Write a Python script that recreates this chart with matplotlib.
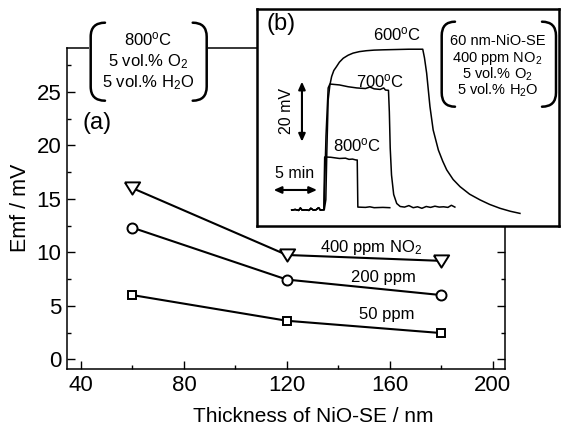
import matplotlib
matplotlib.use('Agg')
import matplotlib.pyplot as plt
from matplotlib.path import Path
from matplotlib.patches import PathPatch, Rectangle
from matplotlib.transforms import Affine2D

plt.rcParams['font.family'] = ['Liberation Sans', 'DejaVu Sans']
plt.rcParams['mathtext.fontset'] = 'custom'
plt.rcParams['mathtext.rm'] = 'Liberation Sans'
plt.rcParams['mathtext.it'] = 'Liberation Sans:italic'
plt.rcParams['mathtext.bf'] = 'Liberation Sans:bold'

# ---------------- data: panel (a) ----------------
thickness = [60, 120, 180]
emf_400ppm = [16.0, 9.75, 9.2]
emf_200ppm = [12.3, 7.45, 6.0]
emf_50ppm = [6.0, 3.6, 2.45]
series_labels = ['400 ppm NO$_2$', '200 ppm', '50 ppm']
x_ticks = [40, 80, 120, 160, 200]
y_ticks = [0, 5, 10, 15, 20, 25]

# ---------------- data: panel (b) transients (time / min, emf / mV) ----------------
base_t = [4.0, 4.4, 4.8, 5.0, 5.2, 5.6, 6.0, 6.2, 6.5, 6.8, 7.1, 7.3, 7.6]
base_v = [5.3, 5.5, 5.2, 6.0, 5.3, 5.4, 5.2, 5.9, 5.3, 5.4, 6.1, 5.3, 5.4]

t800 = [7.70, 7.75, 7.80, 8.5, 9.5, 10.2, 10.6, 11.0, 11.4, 11.55, 11.62, 12.5, 13.0, 13.5, 14.5, 15.3]
v800 = [5.4, 15.0, 23.0, 22.9, 22.5, 22.6, 22.2, 22.3, 22.0, 22.0, 6.3, 6.2, 6.4, 6.1, 6.2, 6.1]

t700 = [7.72, 7.95, 8.2, 8.4, 9.5, 10.5, 11.5, 12.5, 13.0, 13.5, 14.2, 14.6, 14.8, 15.15,
        15.25, 15.35, 15.5, 15.75, 16.1, 16.5, 17.0, 17.5, 18.0, 18.5, 19.0, 19.5, 20.0,
        20.5, 21.0, 21.5, 22.0, 22.4, 22.8]
v700 = [5.4, 30.0, 46.0, 47.3, 47.0, 46.4, 46.0, 45.8, 46.3, 45.7, 45.5, 46.0, 45.3, 45.2,
        38.0, 26.0, 17.0, 10.5, 7.5, 6.5, 6.3, 6.8, 6.1, 6.4, 5.9, 6.5, 6.2,
        6.6, 6.3, 6.4, 6.2, 6.9, 6.3]

t600 = [7.75, 7.93, 8.05, 8.2, 8.4, 8.6, 8.85, 9.16, 9.5, 9.94, 10.5, 11.07, 11.8, 12.6,
        13.5, 14.55, 16.0, 17.5, 19.1, 19.3, 19.55, 19.93, 20.3, 20.9, 21.4, 21.86, 22.6,
        23.4, 24.5, 25.7, 26.8, 28.0, 29.2, 30.3]
v600 = [5.4, 8.7, 25.0, 42.0, 47.0, 49.8, 51.8, 53.1, 54.6, 55.9, 56.9, 57.6, 58.1, 58.4,
        58.6, 58.7, 58.8, 58.9, 58.9, 56.0, 50.9, 39.8, 32.0, 25.3, 21.6, 18.7, 15.5,
        13.1, 10.6, 8.7, 7.2, 5.9, 4.9, 4.2]

temp_labels = ['600$^{\\mathrm{o}}$C', '700$^{\\mathrm{o}}$C', '800$^{\\mathrm{o}}$C']
scale_time = 5    # min
scale_emf = 20    # mV

W, H = 561, 428
fig = plt.figure(figsize=(W / 100, H / 100), dpi=100)
px = Affine2D().scale(1 / W, -1 / H).translate(0, 1) + fig.transFigure

# ---------------- main axes ----------------
ax = fig.add_axes([67 / W, 1 - 369 / H, (505.5 - 67) / W, (369 - 48) / H])
ax.set_xlim(34.56, 204.97)
ax.set_ylim(-0.91, 29.1)

ms_kw = dict(color='black', lw=1.5, mfc='white', mec='black', mew=1.4)
tri = [(-1, 0.8), (1, 0.8), (0, -0.8), (-1, 0.8)]
ax.plot(thickness, emf_400ppm, marker=tri, ms=11, **ms_kw)
ax.plot(thickness, emf_200ppm, marker='o', ms=7.2, **ms_kw)
ax.plot(thickness, emf_50ppm, marker='s', ms=6.4, **ms_kw)

label_pos = [(152.9, 10.06), (157.4, 7.25), (158.7, 3.74)]
for (lx, ly), s in zip(label_pos, series_labels):
    ax.text(lx, ly, s, ha='center', va='baseline', fontsize=12)

ax.set_xticks(x_ticks)
ax.set_xticks([60, 100, 140, 180], minor=True)
ax.set_yticks(y_ticks)
ax.set_yticks([2.5, 7.5, 12.5, 17.5, 22.5, 27.5], minor=True)
ax.tick_params(which='both', direction='in', right=True, top=False, width=1.0,
               labelsize=16, pad=4)
ax.tick_params(which='major', length=5.5)
ax.tick_params(which='minor', length=3)
for sp in ax.spines.values():
    sp.set_linewidth(1.1)

fig.text(313.5, 421.7, 'Thickness of NiO-SE / nm', transform=px, ha='center',
         va='baseline', fontsize=15)
fig.text(21, 208, 'Emf / mV', transform=px, ha='center', va='center',
         rotation=90, fontsize=15.5)
fig.text(97.5, 123.3, '(a)', transform=px, ha='center', va='center', fontsize=17)

# ---------------- inset ----------------
axi = fig.add_axes([257 / W, 1 - 226 / H, (559 - 257) / W, (226 - 9) / H])
axi.set_xlim(0, 34.8)
axi.set_ylim(0, 72.3)
axi.set_xticks([])
axi.set_yticks([])
for sp in axi.spines.values():
    sp.set_linewidth(1.8)
for tt, vv in [(t600, v600), (t700, v700), (t800, v800)]:
    axi.plot(base_t + tt, base_v + vv, color='black', lw=1.1)

arrow_kw = dict(arrowstyle='<|-|>,head_length=0.45,head_width=0.2', color='black',
                lw=1.5, shrinkA=0, shrinkB=0)
axi.annotate('', xy=(1.92, 12.0), xytext=(1.92 + scale_time, 12.0), arrowprops=arrow_kw)
axi.annotate('', xy=(5.18, 28.1), xytext=(5.18, 28.1 + scale_emf), arrowprops=arrow_kw)

fig.text(294.8, 178.3, '5 min', transform=px, ha='center', va='baseline', fontsize=11.5)
fig.text(286.2, 110.8, '20 mV', transform=px, ha='center', va='center', rotation=90,
         fontsize=11.5)
fig.text(397.5, 40, temp_labels[0], transform=px, ha='center', va='baseline', fontsize=12)
fig.text(380.5, 87.3, temp_labels[1], transform=px, ha='center', va='baseline', fontsize=12)
fig.text(356.7, 151.7, temp_labels[2], transform=px, ha='center', va='baseline', fontsize=12)
fig.text(281.3, 24.2, '(b)', transform=px, ha='center', va='center', fontsize=17)

# ---------------- bracket boxes ----------------
def bracket(x_out, x_end, y_top, y_bot, r=14):
    verts = [(x_end, y_top), (x_out, y_top), (x_out, y_top + r),
             (x_out, y_bot - r), (x_out, y_bot), (x_end, y_bot)]
    codes = [Path.MOVETO, Path.CURVE3, Path.CURVE3, Path.LINETO, Path.CURVE3, Path.CURVE3]
    return PathPatch(Path(verts, codes), transform=px, fill=False, lw=1.8,
                     edgecolor='black', zorder=5, capstyle='round')

fig.patches.append(Rectangle((89, 21), 119, 81, transform=px, facecolor='white',
                             edgecolor='none', zorder=4))
fig.patches.append(bracket(90.7, 105, 22.7, 100.7))
fig.patches.append(bracket(206.7, 192.7, 22.7, 100.7))
boxA = ['800$^{\\mathrm{o}}$C', '5 vol.% O$_2$', '5 vol.% H$_2$O']
for yb, s in zip([45, 66.7, 87.3], boxA):
    fig.text(148, yb, s, transform=px, ha='center', va='baseline', fontsize=12, zorder=6)

fig.patches.append(bracket(441.7, 455, 21.7, 106.7))
fig.patches.append(bracket(556, 542, 21.7, 106.7))
boxB = ['60 nm-NiO-SE', '400 ppm NO$_2$', '5 vol.% O$_2$', '5 vol.% H$_2$O']
for yb, s in zip([45, 61.7, 78.3, 95], boxB):
    fig.text(497.5, yb, s, transform=px, ha='center', va='baseline', fontsize=10.5, zorder=6)

fig.savefig('out.png', dpi=100)
